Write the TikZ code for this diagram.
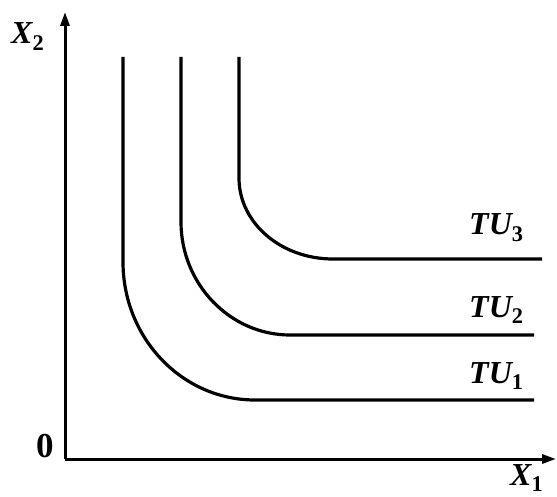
\documentclass[tikz,border=0pt]{standalone}
\usepackage{fontspec}
\setmainfont{Liberation Serif}
\usetikzlibrary{arrows.meta}
\begin{document}
\begin{tikzpicture}[x=1pt,y=-1pt,
  curve/.style={line width=3.2pt},
  axis/.style={line width=3pt,-{Triangle[length=14pt,width=9pt]}},
  lbl/.style={inner sep=0pt,anchor=base west,font=\fontsize{32}{32}\selectfont\bfseries\itshape}]
\useasboundingbox (0,0) rectangle (557,497);
\coordinate (O) at (65,459);
\coordinate (ytop) at (65,12);
\coordinate (xend) at (556,459);
\draw[axis] (O) -- (ytop);
\draw[axis] (O) -- (xend);
% curves
\coordinate (a1) at (123,57);
\coordinate (b1) at (123,262);
\coordinate (c1) at (255,400);
\coordinate (d1) at (534,400);
\draw[curve] (a1) -- (b1) .. controls +(0,76) and +(-73,0) .. (c1) -- (d1);
\coordinate (a2) at (181,57);
\coordinate (b2) at (181,222);
\coordinate (c2) at (290,335);
\coordinate (d2) at (534,335);
\draw[curve] (a2) -- (b2) .. controls +(0,62) and +(-60,0) .. (c2) -- (d2);
\coordinate (a3) at (239,57);
\coordinate (b3) at (239,178);
\coordinate (c3) at (333,259);
\coordinate (d3) at (542,259);
\draw[curve] (a3) -- (b3) .. controls +(0,45) and +(-52,0) .. (c3) -- (d3);
% labels
\node[lbl] (tu3) at (469,235) {TU\textsubscript{\upshape 3}};
\node[lbl] (tu2) at (469,317) {TU\textsubscript{\upshape 2}};
\node[lbl] (tu1) at (469,383) {TU\textsubscript{\upshape 1}};
\node[lbl] (x2) at (11,44) {X\textsubscript{\upshape 2}};
\node[lbl] (x1) at (510,485) {X\textsubscript{\upshape 1}};
\node[lbl,font=\fontsize{35}{35}\selectfont\bfseries] (zero) at (36,457) {0};
\end{tikzpicture}
\end{document}
